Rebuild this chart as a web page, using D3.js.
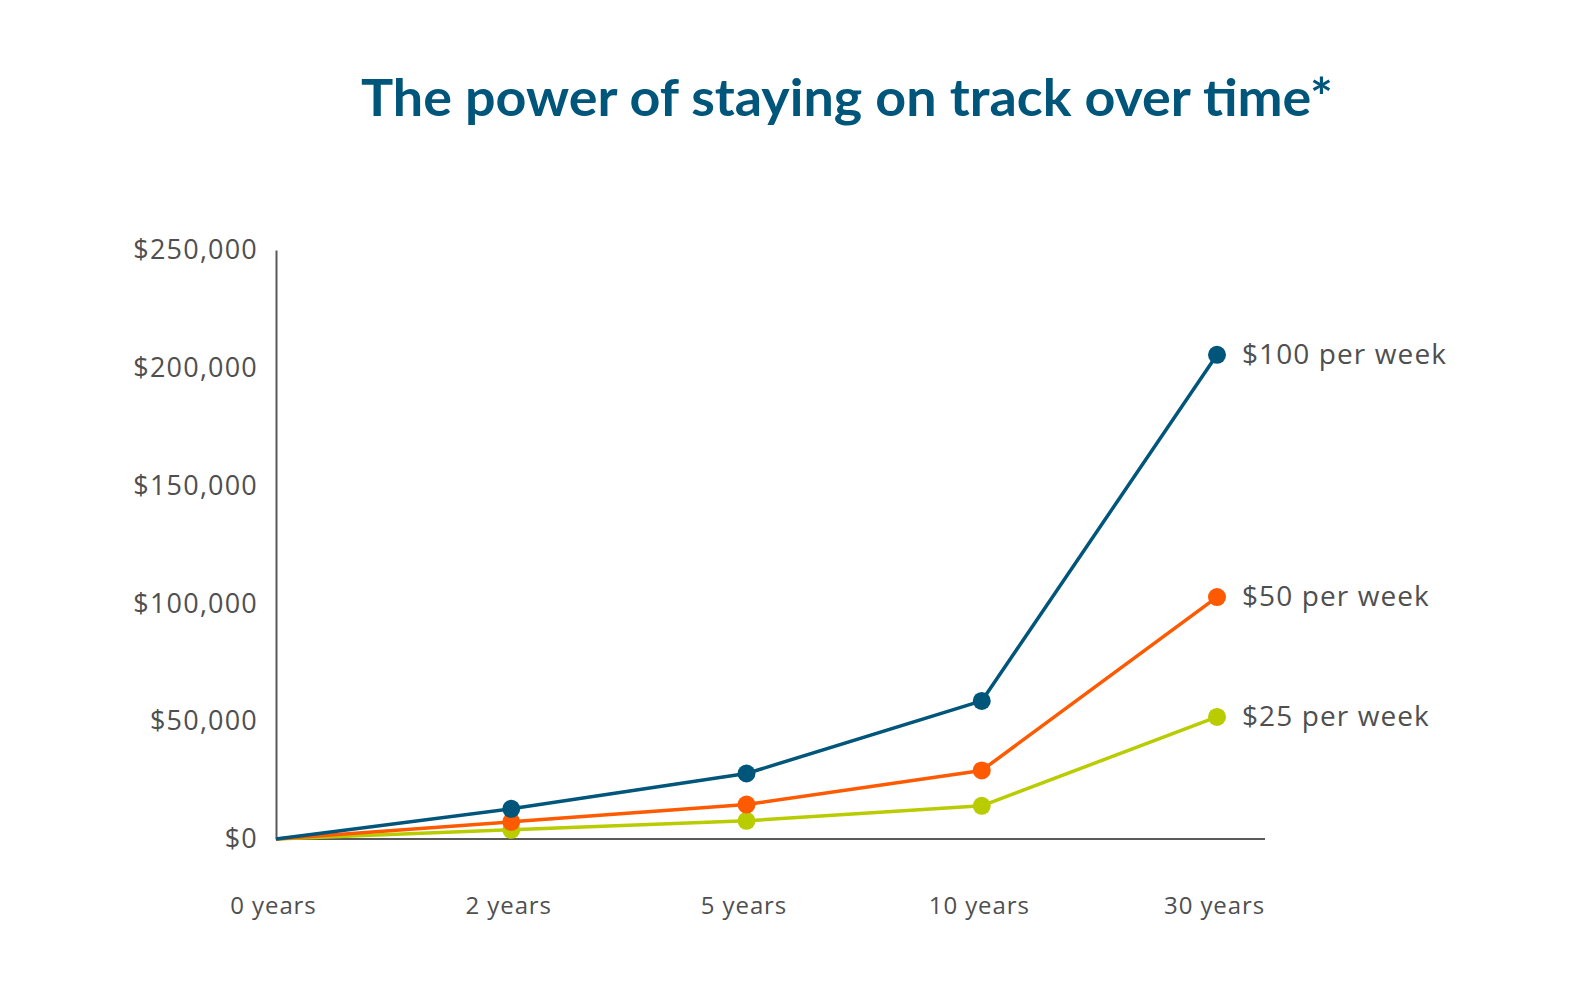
<!DOCTYPE html>
<html>
<head>
<meta charset="utf-8">
<script src="https://cdn.jsdelivr.net/npm/d3@7"></script>
<style>
  html, body { margin: 0; padding: 0; background: #fff; }
  svg { display: block; }
</style>
</head>
<body>
<svg id="chart" width="1581" height="996"></svg>
<script>
const categories = ["0 years", "2 years", "5 years", "10 years", "30 years"];
const seriesNames = ["$100 per week", "$50 per week", "$25 per week"];
const values100 = [0, 12800, 27800, 58600, 205500];
const values50  = [0, 7300, 14600, 29100, 102700];
const values25  = [0, 3900, 7700, 14100, 51800];
const yTicks = [0, 50000, 100000, 150000, 200000, 250000];
const colors = ["#00557a", "#ff5a00", "#b8cc00"];
const titleText = "The power of staying on track over time*";

const series = [values100, values50, values25].map((v, i) => ({
  name: seriesNames[i], color: colors[i],
  points: v.map((val, j) => ({ cat: categories[j], val }))
}));

const svg = d3.select("#chart");
const textColor = "#4f4f4f";
const fontFam = "'Open Sans', Lato, sans-serif";

const x = d3.scalePoint().domain(categories).range([276, 1217]).padding(0);
const y = d3.scaleLinear().domain([0, 250000]).range([839, 250]);

// Title
svg.append("text")
  .attr("x", 847).attr("y", 116)
  .attr("text-anchor", "middle")
  .attr("font-family", "Lato, sans-serif")
  .attr("font-weight", 700)
  .attr("font-size", 52)
  .attr("fill", "#00557a")
  .attr("textLength", 972)
  .attr("lengthAdjust", "spacingAndGlyphs")
  .text(titleText);

// Y axis
const yAxis = d3.axisLeft(y).tickValues(yTicks).tickSize(0).tickPadding(18)
  .tickFormat(d => "$" + d3.format(",")(d));
const gy = svg.append("g").attr("transform", "translate(276,0)").call(yAxis);
gy.select(".domain").attr("stroke", "#5a5a5a").attr("stroke-width", 2);
gy.selectAll("text").attr("font-family", fontFam).attr("font-size", 27)
  .attr("letter-spacing", 1.2)
  .attr("fill", textColor);

// X axis line
svg.append("line")
  .attr("x1", 276).attr("x2", 1265)
  .attr("y1", y(0)).attr("y2", y(0))
  .attr("stroke", "#5a5a5a").attr("stroke-width", 2);

// X labels
const xAxis = d3.axisBottom(x).tickSize(0).tickPadding(0);
const gx = svg.append("g").attr("transform", "translate(-3,897)").call(xAxis);
gx.select(".domain").remove();
gx.selectAll("text").attr("font-family", fontFam).attr("font-size", 24)
  .attr("letter-spacing", 0.9)
  .attr("fill", textColor).attr("dy", "0.71em");

// Lines
const line = d3.line().x(d => x(d.cat)).y(d => y(d.val));
const g = svg.append("g");
series.slice().reverse().forEach(s => {
  g.append("path").datum(s.points)
    .attr("fill", "none").attr("stroke", s.color).attr("stroke-width", 3.5)
    .attr("stroke-linejoin", "round")
    .attr("d", line);
  g.selectAll(null).data(s.points.slice(1)).enter().append("circle")
    .attr("cx", d => x(d.cat)).attr("cy", d => y(d.val)).attr("r", 9)
    .attr("fill", s.color);
  const last = s.points[s.points.length - 1];
  g.append("text")
    .attr("x", x(last.cat) + 25).attr("y", y(last.val))
    .attr("dy", "0.32em")
    .attr("font-family", fontFam).attr("font-size", 28)
    .attr("letter-spacing", 1.1)
    .attr("fill", textColor)
    .text(s.name);
});
</script>
</body>
</html>
